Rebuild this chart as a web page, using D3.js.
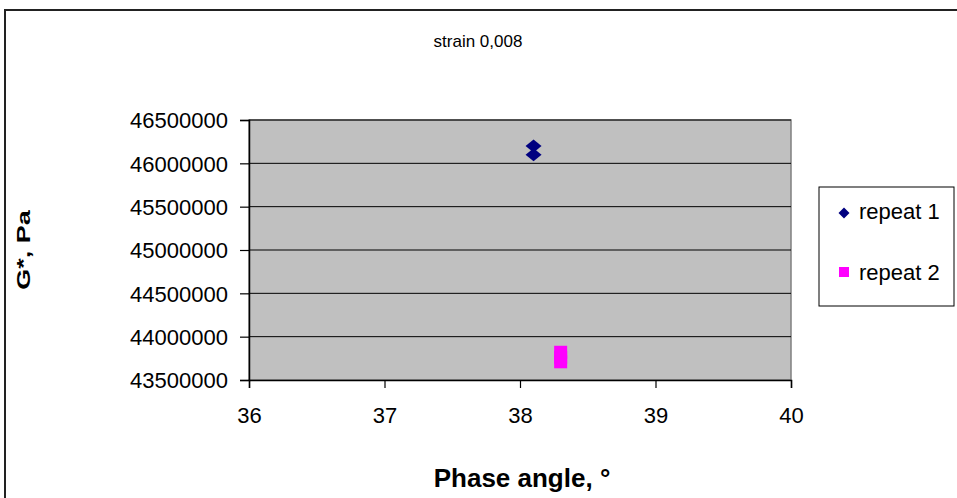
<!DOCTYPE html>
<html><head><meta charset="utf-8">
<script src="https://cdn.jsdelivr.net/npm/d3@7/dist/d3.min.js"></script>
<style>body{margin:0;background:#fff}svg{display:block;font-family:"Liberation Sans",Arial,sans-serif}</style>
</head><body><svg id="c" width="957" height="498"></svg>
<script>
const title = "strain 0,008";
const xLabel = "Phase angle, °";
const yLabel = "G*, Pa";
const seriesNames = ["repeat 1", "repeat 2"];
const repeat1X = [38.1, 38.1];
const repeat1Y = [46200000, 46100000];
const repeat2X = [38.3, 38.3, 38.3];
const repeat2Y = [43820000, 43760000, 43710000];
const xTicks = [36, 37, 38, 39, 40];
const yTicks = [43500000, 44000000, 44500000, 45000000, 45500000, 46000000, 46500000];
const colors = ["#000080", "#ff00ff"];

const FONT = '"Liberation Sans",Arial,sans-serif';
const svg = d3.select("#c");
const L = 249, R = 791, T = 120, B = 380;
const x = d3.scaleLinear().domain([36, 40]).range([L, R]);
const y = d3.scaleLinear().domain([43500000, 46500000]).range([B, T]);

// diamond symbol with separate width/height
const diamondType = (w, h) => ({
  draw(ctx) {
    ctx.moveTo(0, -h / 2); ctx.lineTo(w / 2, 0); ctx.lineTo(0, h / 2); ctx.lineTo(-w / 2, 0); ctx.closePath();
  }
});

// outer frame
svg.append("rect").attr("x", 5).attr("y", 10).attr("width", 960).attr("height", 500)
  .attr("fill", "#fff").attr("stroke", "#222").attr("stroke-width", 2);

// plot area
svg.append("rect").attr("x", L).attr("y", T).attr("width", R - L).attr("height", B - T)
  .attr("fill", "#c0c0c0").attr("stroke", "#808080").attr("stroke-width", 1.5);

// gridlines
svg.append("g").selectAll("line").data(yTicks.slice(1)).join("line")
  .attr("x1", L).attr("x2", R).attr("y1", d => y(d)).attr("y2", d => y(d))
  .attr("stroke", "#000").attr("stroke-width", 1);

// axes
const xa = svg.append("g").attr("transform", `translate(0,${B})`)
  .call(d3.axisBottom(x).tickValues(xTicks).tickSize(8).tickPadding(19).tickFormat(d3.format("d")));
const ya = svg.append("g").attr("transform", `translate(${L},0)`)
  .call(d3.axisLeft(y).tickValues(yTicks).tickSize(9).tickPadding(12).tickFormat(d3.format("d")));
[xa, ya].forEach(a => {
  a.select(".domain").attr("stroke", "#000").attr("stroke-width", 1.5);
  a.selectAll(".tick line").attr("stroke", "#000").attr("stroke-width", 1.2);
  a.selectAll("text").attr("font-size", 22).attr("fill", "#000").attr("font-family", FONT);
});
ya.selectAll(".tick text").attr("dy", "0.36em");

// points
svg.append("g").selectAll("path").data(repeat1X.map((v, i) => [v, repeat1Y[i]])).join("path")
  .attr("d", d3.symbol().type(diamondType(16, 13)))
  .attr("transform", d => `translate(${x(d[0])},${y(d[1])})`)
  .attr("fill", colors[0]);
svg.append("g").selectAll("rect").data(repeat2X.map((v, i) => [v, repeat2Y[i]])).join("rect")
  .attr("x", d => x(d[0]) - 6.5).attr("y", d => y(d[1]) - 6.5)
  .attr("width", 13).attr("height", 13).attr("fill", colors[1]);

// titles
svg.append("text").attr("x", 478).attr("y", 47).attr("text-anchor", "middle")
  .attr("font-size", 17).text(title);
svg.append("text").attr("x", 522).attr("y", 487).attr("text-anchor", "middle")
  .attr("font-size", 26).attr("font-weight", "bold").text(xLabel);
svg.append("text").attr("transform", "translate(30,250) rotate(-90) scale(1,0.65)").attr("text-anchor", "middle")
  .attr("font-size", 27).attr("font-weight", "bold").text(yLabel);

// legend
const lg = svg.append("g");
lg.append("rect").attr("x", 819).attr("y", 187).attr("width", 135).attr("height", 119)
  .attr("fill", "#fff").attr("stroke", "#000").attr("stroke-width", 1);
const legendY = [211, 272];
seriesNames.forEach((n, i) => {
  const ly = legendY[i];
  if (i === 0) lg.append("path").attr("d", d3.symbol().type(diamondType(11, 11)))
    .attr("transform", `translate(844,${ly + 2})`).attr("fill", colors[0]);
  else lg.append("rect").attr("x", 839).attr("y", ly - 5).attr("width", 10).attr("height", 10).attr("fill", colors[1]);
  lg.append("text").attr("x", 859).attr("y", ly).attr("dy", "0.36em").attr("font-size", 22).text(n);
});
</script></body></html>
